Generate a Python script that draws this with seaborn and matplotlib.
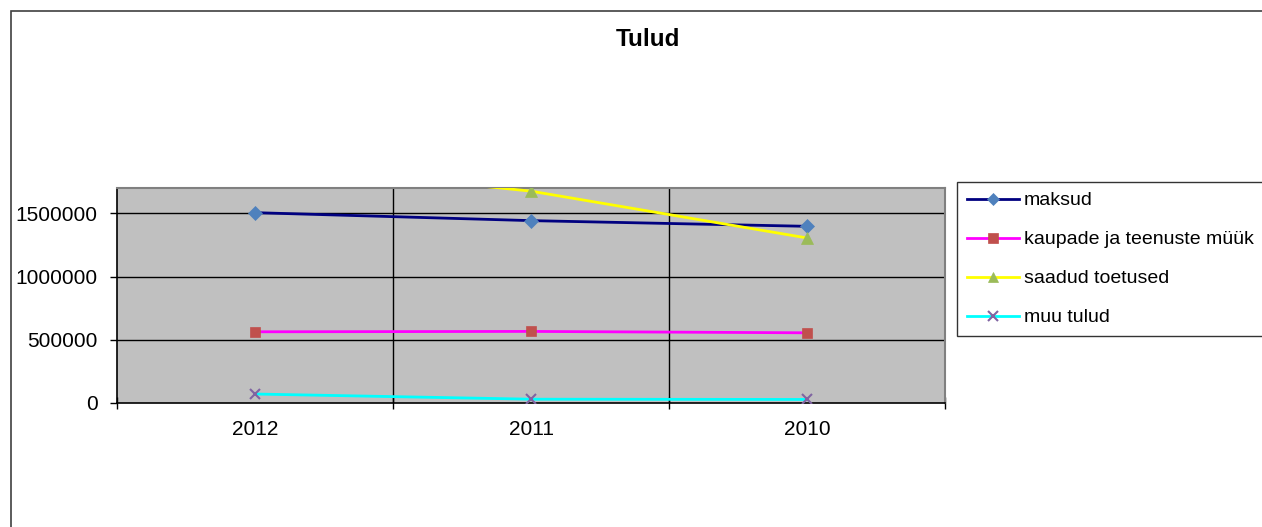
import matplotlib
matplotlib.use("Agg")
import matplotlib.pyplot as plt
from matplotlib.lines import Line2D
from matplotlib.patches import Rectangle
import pandas as pd
import seaborn as sns

plt.rcParams["font.family"] = ["Liberation Sans", "DejaVu Sans"]

# ------------------------------------------------------
# Data
# ------------------------------------------------------

years = ["2012", "2011", "2010"]
series_names = ["maksud", "kaupade ja teenuste müük", "saadud toetused", "muu tulud"]
maksud = [1505000, 1442000, 1397000]
kaupade = [563000, 566000, 555000]
saadud = [1900000, 1675000, 1305000]
muu = [71000, 30000, 28000]
ytick_values = [0, 500000, 1000000, 1500000]

line_colors = {
    "maksud": "#000080",
    "kaupade ja teenuste müük": "#FF00FF",
    "saadud toetused": "#FFFF00",
    "muu tulud": "#00FFFF",
}
marker_colors = {
    "maksud": "#4F81BD",
    "kaupade ja teenuste müük": "#C0504D",
    "saadud toetused": "#9BBB59",
    "muu tulud": "#8064A2",
}
marker_map = {
    "maksud": "D",
    "kaupade ja teenuste müük": "s",
    "saadud toetused": "^",
    "muu tulud": "x",
}
marker_sizes = {
    "maksud": 7,
    "kaupade ja teenuste müük": 7,
    "saadud toetused": 8,
    "muu tulud": 6.5,
}

rows = []
for name, vals in zip(series_names, [maksud, kaupade, saadud, muu]):
    for i, (yr, v) in enumerate(zip(years, vals)):
        rows.append({"series": name, "year": yr, "pos": i + 0.5, "value": v})
df = pd.DataFrame(rows)

# ------------------------------------------------------
# Plot
# ------------------------------------------------------

W, H = 1262, 527
fig = plt.figure(figsize=(W / 100, H / 100), dpi=100)
ax = fig.add_axes([117 / W, (H - 403) / H, (945 - 117) / W, (403 - 188) / H])
ax.set_facecolor("#C0C0C0")

sns.lineplot(
    data=df,
    x="pos",
    y="value",
    hue="series",
    hue_order=series_names,
    palette=line_colors,
    linewidth=2,
    sort=False,
    legend=False,
    ax=ax,
    zorder=3,
)

# seaborn can't mix filled and line-art markers, so set them on the lines
color_to_name = {matplotlib.colors.to_hex(c): n for n, c in line_colors.items()}
for line in ax.lines:
    name = color_to_name.get(matplotlib.colors.to_hex(line.get_color()))
    if name is None:
        continue
    line.set_marker(marker_map[name])
    line.set_markersize(marker_sizes[name])
    line.set_markerfacecolor(marker_colors[name])
    line.set_markeredgecolor(marker_colors[name])
    line.set_markeredgewidth(1.5 if name == "muu tulud" else 0.5)

ax.set_xlim(0, 3)
ax.set_ylim(0, 1700000)

# grid lines
for yv in ytick_values[1:]:
    ax.axhline(yv, color="black", lw=1, zorder=1)
for xv in [1, 2]:
    ax.axvline(xv, color="black", lw=1, zorder=1)

# ticks
ax.set_yticks(ytick_values)
ax.set_yticklabels([str(v) for v in ytick_values], fontsize=15)
ax.tick_params(axis="y", direction="out", length=5, width=1, pad=9)

ax.set_xticks([0, 1, 2, 3])
ax.set_xticklabels([])
ax.tick_params(axis="x", which="major", direction="inout", length=9, width=1)
ax.set_xticks([0.5, 1.5, 2.5], minor=True)
ax.set_xticklabels(years, minor=True, fontsize=15)
ax.tick_params(axis="x", which="minor", length=0, pad=12)
ax.set_xlabel("")
ax.set_ylabel("")

for side in ["left", "bottom"]:
    ax.spines[side].set_color("#000000")
    ax.spines[side].set_linewidth(1.2)
for side in ["top", "right"]:
    ax.spines[side].set_color("#808080")
    ax.spines[side].set_linewidth(1.5)

# legend
handles = [
    Line2D([0], [0], color=line_colors[n], lw=2, marker=marker_map[n],
           markerfacecolor=marker_colors[n], markeredgecolor=marker_colors[n],
           markersize=6.5, markeredgewidth=1.5 if n == "muu tulud" else 0.5)
    for n in series_names
]
leg = fig.legend(
    handles,
    series_names,
    loc="upper left",
    bbox_to_anchor=(957 / W, 1 - 182 / H),
    frameon=True,
    fancybox=False,
    fontsize=14,
    handlelength=2.7,
    handletextpad=0.25,
    labelspacing=1.1,
    borderpad=0.5,
    borderaxespad=0,
)
leg.get_frame().set_edgecolor("black")
leg.get_frame().set_linewidth(1)

# title and outer chart border
fig.text(648 / W, 1 - 40 / H, "Tulud", ha="center", va="center", fontsize=17.5, fontweight="bold")
fig.add_artist(Rectangle((11 / W, -0.1), 1.2, 1 - 11 / H + 0.1, transform=fig.transFigure,
                         fill=False, ec="#404040", lw=1.2, clip_on=False))

fig.savefig("out.png", dpi=100)
